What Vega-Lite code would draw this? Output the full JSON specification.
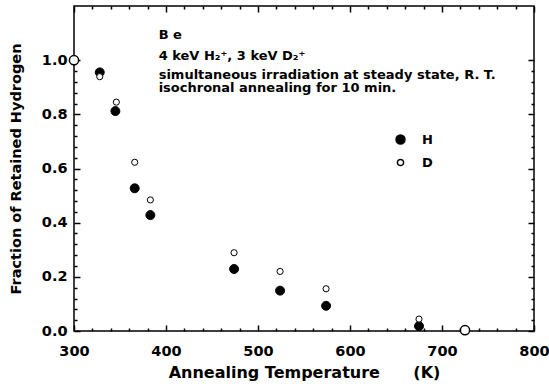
{
  "$schema": "https://vega.github.io/schema/vega-lite/v6.json",
  "width": 460,
  "height": 325,
  "autosize": {"type": "none"},
  "padding": {"left": 74, "top": 6, "right": 15, "bottom": 60},
  "background": "white",
  "config": {
    "view": {"stroke": "black", "strokeWidth": 1.5},
    "font": "DejaVu Sans"
  },
  "data": {
    "values": [
      {"kind": "pt", "T": 328, "f": 0.955, "s": "H"},
      {"kind": "pt", "T": 345, "f": 0.812, "s": "H"},
      {"kind": "pt", "T": 366, "f": 0.527, "s": "H"},
      {"kind": "pt", "T": 383, "f": 0.428, "s": "H"},
      {"kind": "pt", "T": 474, "f": 0.229, "s": "H"},
      {"kind": "pt", "T": 524, "f": 0.149, "s": "H"},
      {"kind": "pt", "T": 574, "f": 0.093, "s": "H"},
      {"kind": "pt", "T": 675, "f": 0.018, "s": "H"},
      {"kind": "pt", "T": 328, "f": 0.939, "s": "D"},
      {"kind": "pt", "T": 346, "f": 0.845, "s": "D"},
      {"kind": "pt", "T": 366, "f": 0.623, "s": "D"},
      {"kind": "pt", "T": 383, "f": 0.484, "s": "D"},
      {"kind": "pt", "T": 474, "f": 0.289, "s": "D"},
      {"kind": "pt", "T": 524, "f": 0.220, "s": "D"},
      {"kind": "pt", "T": 574, "f": 0.156, "s": "D"},
      {"kind": "pt", "T": 675, "f": 0.044, "s": "D"},
      {"kind": "both", "T": 300, "f": 1.0},
      {"kind": "both", "T": 725, "f": 0.003},
      {"kind": "note", "T": 392, "f": 1.078, "txt": "B e"},
      {"kind": "note", "T": 392, "f": 1.001, "txt": "4 keV H₂⁺, 3 keV D₂⁺"},
      {"kind": "note", "T": 392, "f": 0.929, "txt": "simultaneous irradiation at steady state, R. T."},
      {"kind": "note", "T": 392, "f": 0.884, "txt": "isochronal annealing for 10 min."}
    ]
  },
  "resolve": {"axis": {"x": "independent", "y": "independent"}},
  "layer": [
    {
      "transform": [{"filter": "datum.kind === 'pt'"}],
      "mark": {"type": "point", "shape": "circle", "filled": true, "stroke": "black", "strokeWidth": 1, "opacity": 1},
      "encoding": {
        "x": {
          "field": "T", "type": "quantitative",
          "scale": {"domain": [300, 800], "nice": false, "zero": false},
          "axis": {
            "orient": "bottom",
            "values": [300, 320, 340, 360, 380, 400, 420, 440, 460, 480, 500, 520, 540, 560, 580, 600, 620, 640, 660, 680, 700, 720, 740, 760, 780, 800],
            "domain": false, "grid": false,
            "tickSize": {"condition": {"test": "datum.value % 100 === 0", "value": -6}, "value": -3},
            "tickWidth": 1.5, "tickColor": "black",
            "labelExpr": "datum.value % 100 === 0 ? datum.label : ''",
            "labelFont": "DejaVu Sans", "labelFontWeight": "bold", "labelColor": "black",
            "labelFontSize": 14.5, "labelPadding": 19,
            "labelFlush": false, "labelOverlap": false,
            "title": "Annealing Temperature\u00a0\u00a0\u00a0\u00a0\u00a0\u00a0(K)",
            "titleFont": "DejaVu Sans", "titleFontWeight": "bold", "titleColor": "black",
            "titleFontSize": 16, "titlePadding": 4
          }
        },
        "y": {
          "field": "f", "type": "quantitative",
          "scale": {"domain": [0, 1.2], "nice": false, "zero": false},
          "axis": {
            "orient": "left",
            "values": [0, 0.04, 0.08, 0.12, 0.16, 0.2, 0.24, 0.28, 0.32, 0.36, 0.4, 0.44, 0.48, 0.52, 0.56, 0.6, 0.64, 0.68, 0.72, 0.76, 0.8, 0.84, 0.88, 0.92, 0.96, 1.0],
            "format": ".1f",
            "domain": false, "grid": false,
            "tickSize": {"condition": {"test": "abs(datum.value * 5 - round(datum.value * 5)) < 0.001", "value": -6}, "value": -3},
            "tickWidth": 1.5, "tickColor": "black",
            "labelExpr": "abs(datum.value * 5 - round(datum.value * 5)) < 0.001 ? datum.label : ''",
            "labelFont": "DejaVu Sans", "labelFontWeight": "bold", "labelColor": "black",
            "labelFontSize": 14.5, "labelPadding": 13,
            "labelFlush": false, "labelOverlap": false,
            "title": "Fraction of Retained Hydrogen",
            "titleFont": "DejaVu Sans", "titleFontWeight": "bold", "titleColor": "black",
            "titleFontSize": 14.5, "titlePadding": 18
          }
        },
        "fill": {
          "field": "s", "type": "ordinal",
          "scale": {"domain": ["H", "D"], "range": ["black", "white"]},
          "legend": {
            "orient": "none", "legendX": 320, "legendY": 127, "title": null,
            "labelFontSize": 13, "labelFontWeight": "bold", "labelColor": "black",
            "labelFont": "DejaVu Sans", "labelOffset": 15, "rowPadding": 9,
            "symbolType": "circle",
            "encode": {"symbols": {"update": {"stroke": {"value": "black"}, "strokeWidth": {"value": 1}, "opacity": {"value": 1}}}}
          }
        },
        "size": {
          "field": "s", "type": "ordinal",
          "scale": {"domain": ["H", "D"], "range": [80, 38]},
          "legend": {
            "orient": "none", "legendX": 320, "legendY": 127, "title": null,
            "labelFontSize": 13, "labelFontWeight": "bold", "labelColor": "black",
            "labelFont": "DejaVu Sans", "labelOffset": 15, "rowPadding": 9,
            "symbolType": "circle",
            "encode": {"symbols": {"update": {"stroke": {"value": "black"}, "strokeWidth": {"value": 1}, "opacity": {"value": 1}}}}
          }
        }
      }
    },
    {
      "transform": [{"filter": "datum.kind === 'both'"}],
      "mark": {"type": "point", "shape": "circle", "filled": true, "fill": "white", "stroke": "black", "strokeWidth": 1.5, "size": 85, "opacity": 1},
      "encoding": {
        "x": {
          "field": "T", "type": "quantitative",
          "scale": {"domain": [300, 800], "nice": false, "zero": false},
          "axis": {
            "orient": "top",
            "values": [300, 320, 340, 360, 380, 400, 420, 440, 460, 480, 500, 520, 540, 560, 580, 600, 620, 640, 660, 680, 700, 720, 740, 760, 780, 800],
            "domain": false, "grid": false,
            "tickSize": {"condition": {"test": "datum.value % 100 === 0", "value": -6}, "value": -3},
            "tickWidth": 1.5, "tickColor": "black", "labels": false, "title": null
          }
        },
        "y": {
          "field": "f", "type": "quantitative",
          "scale": {"domain": [0, 1.2], "nice": false, "zero": false},
          "axis": {
            "orient": "right",
            "values": [0, 0.04, 0.08, 0.12, 0.16, 0.2, 0.24, 0.28, 0.32, 0.36, 0.4, 0.44, 0.48, 0.52, 0.56, 0.6, 0.64, 0.68, 0.72, 0.76, 0.8, 0.84, 0.88, 0.92, 0.96, 1.0],
            "domain": false, "grid": false,
            "tickSize": {"condition": {"test": "abs(datum.value * 5 - round(datum.value * 5)) < 0.001", "value": -6}, "value": -3},
            "tickWidth": 1.5, "tickColor": "black", "labels": false, "title": null
          }
        }
      }
    },
    {
      "transform": [{"filter": "datum.kind === 'note'"}],
      "mark": {"type": "text", "align": "left", "baseline": "alphabetic", "fontSize": 13, "fontWeight": "bold", "font": "DejaVu Sans", "color": "black"},
      "encoding": {
        "x": {
          "field": "T", "type": "quantitative",
          "scale": {"domain": [300, 800], "nice": false, "zero": false},
          "axis": null
        },
        "y": {
          "field": "f", "type": "quantitative",
          "scale": {"domain": [0, 1.2], "nice": false, "zero": false},
          "axis": null
        },
        "text": {"field": "txt", "type": "nominal"}
      }
    }
  ]
}
